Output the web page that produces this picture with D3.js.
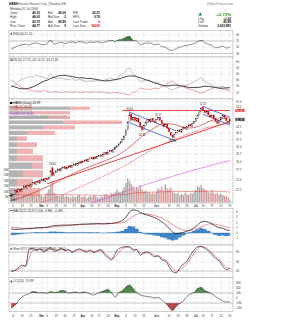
<!DOCTYPE html>
<html><head><meta charset="utf-8">
<script src="https://cdn.jsdelivr.net/npm/d3@7/dist/d3.min.js"></script>
<style>body{margin:0;background:#fff}svg{display:block}text{font-family:"Liberation Sans",Arial,sans-serif}</style>
</head><body><svg id="c" width="282" height="320"></svg>
<script>
// ---------- DATA ----------
const tickIdx = [1,6,11,17,20,25,30,35,40,45,49,54,59,64,69,74,81,88,93,98,103,107,112,117,122];
const tickLab = ["6","13","21","Mar","6","13","20","27","Apr","10","17","24","May","8","15","22","Jun","12","19","26","Jul","10","17","24","31"];
const openP = [21.4,21.1,21.6,22.5,22.1,22.7,22.2,22.9,23.5,23.0,23.7,23.2,24.0,24.4,23.9,24.7,24.2,
 24.9,25.2,24.6,25.4,25.1,25.8,28.2,26.1,26.9,27.2,27.9,27.4,28.2,28.5,27.9,28.4,28.8,28.3,29.0,29.4,28.9,29.6,30.0,
 29.7,30.2,30.6,30.1,30.9,31.3,30.8,31.5,30.9,31.7,32.1,31.6,32.4,32.9,32.3,33.2,33.7,33.1,34.1,
 34.7,35.3,36.0,36.7,37.6,39.0,41.5,45.0,48.5,45.8,47.0,45.3,46.6,44.6,42.8,41.6,43.3,44.5,46.0,44.8,46.4,45.2,
 44.5,46.1,47.0,45.4,44.0,42.7,43.9,41.9,40.4,39.0,38.4,39.8,40.3,41.4,40.5,41.8,42.5,41.7,42.9,43.6,42.9,44.3,
 45.2,46.6,48.3,49.9,51.8,50.2,49.0,50.0,48.1,47.0,48.1,46.3,45.0,44.1,45.8,46.9,48.0,46.7,45.2,45.32];
const highP = [21.8,21.7,22.6,22.7,22.8,22.9,23.0,23.6,23.6,23.8,23.8,24.1,24.5,24.5,24.8,24.9,25.0,
 25.3,25.4,25.5,25.6,25.8,27.6,28.6,27.0,27.5,28.0,28.1,28.3,28.6,28.6,28.5,28.9,29.0,29.1,29.5,29.6,29.7,30.1,30.2,
 30.3,30.7,30.8,31.0,31.4,31.4,31.6,31.6,31.8,32.2,32.3,32.5,33.0,33.1,33.3,33.8,33.9,34.2,34.9,
 35.5,36.2,36.9,37.9,39.3,41.8,45.2,50.03,48.8,47.4,47.2,46.9,46.8,44.9,43.1,43.6,44.9,46.2,46.3,46.6,46.7,45.6,
 46.2,47.27,47.1,45.6,44.3,44.1,44.0,42.2,40.6,39.3,39.9,40.6,41.5,41.5,41.8,42.6,42.7,42.9,43.8,43.8,44.4,45.3,
 46.6,48.4,49.9,52.0,52.72,50.6,50.2,50.2,48.4,48.2,48.3,46.5,45.4,45.8,47.1,48.0,48.3,46.9,45.6,46.00];
const lowP = [20.9,20.9,21.4,21.8,21.9,22.1,22.0,22.7,22.9,22.9,23.1,23.1,23.8,23.8,23.8,24.1,24.0,
 24.7,24.5,24.5,24.8,24.9,25.6,25.9,25.9,26.7,27.0,27.3,27.2,28.0,27.8,27.7,28.2,28.2,28.1,28.8,28.8,28.7,29.4,29.4,
 29.5,30.0,30.0,30.0,30.7,30.7,30.7,30.8,30.8,31.5,31.5,31.4,32.2,32.2,32.1,33.0,33.0,32.9,33.9,
 34.5,35.0,35.8,36.5,37.4,38.8,41.2,44.6,45.2,45.3,45.0,45.0,44.5,42.7,40.33,41.3,43.0,44.2,44.7,44.6,45.1,44.4,
 44.2,45.9,45.4,44.0,42.6,42.5,41.9,40.4,39.0,37.80,38.2,39.5,40.1,40.5,40.3,41.6,41.6,41.5,42.7,42.9,42.7,44.0,
 45.0,46.4,48.0,49.7,50.1,49.0,48.8,48.0,46.9,46.8,46.3,44.9,43.9,43.9,45.5,46.7,46.6,45.2,44.5,43.75];
const closeP = [21.2,21.5,22.4,22.0,22.6,22.3,22.8,23.4,23.1,23.6,23.3,23.9,24.3,24.0,24.6,24.3,24.8,
 25.1,24.7,25.3,25.0,25.6,27.3,26.2,26.8,27.3,27.8,27.5,28.1,28.4,28.0,28.3,28.7,28.4,28.9,29.3,29.0,29.5,29.9,29.6,
 30.1,30.5,30.2,30.8,31.2,30.9,31.4,31.0,31.6,32.0,31.7,32.3,32.8,32.4,33.1,33.6,33.2,34.0,34.6,
 35.2,35.9,36.6,37.5,38.8,41.0,44.5,48.2,46.0,46.8,45.5,46.5,44.8,43.0,41.5,43.2,44.6,45.8,45.0,46.2,45.4,44.7,
 45.9,46.8,45.6,44.2,42.9,43.8,42.1,40.6,39.2,38.5,39.6,40.4,41.2,40.7,41.6,42.3,41.9,42.7,43.5,43.1,44.2,45.0,
 46.4,48.1,49.6,51.5,50.4,49.2,49.8,48.3,47.2,47.9,46.5,45.1,44.3,45.6,46.8,47.8,46.9,45.4,44.77,45.99];
const volumeM = [11,7,6,8,7,5,6,7,6,5,6,8,7,6,5,6,7,
 6,5,7,9,12,16,20,9,7,6,5,6,7,5,6,5,4,6,5,5,6,7,5,
 5,6,4,5,6,5,7,6,5,4,6,5,7,8,6,7,9,8,10,
 12,10,9,11,14,18,22,20,17,15,12,14,13,16,12,10,11,9,10,8,9,8,
 10,13,12,15,11,17,13,12,14,10,9,8,9,7,8,7,9,8,7,9,8,10,
 12,15,14,16,13,12,11,10,9,11,9,8,9,7,8,7,6,6,5,2.6];
const maIdx = [0,5,10,15,20,25,30,35,40,45,50,55,60,65,70,75,80,85,90,95,100,105,110,115,120,122];
const ma20 = [20.3,20.8,21.5,22.3,23.3,24.3,25.5,26.7,27.8,28.8,29.8,30.9,32.2,34.3,37.0,39.9,42.3,44.1,43.9,42.8,42.2,43.1,45.0,46.2,46.6,46.6];
const ma50 = [18.0,18.5,19.0,19.6,20.2,20.9,21.7,22.6,23.5,24.5,25.6,26.7,27.9,29.3,31.0,32.7,34.4,36.0,37.4,38.7,40.0,41.3,42.5,43.3,44.0,44.3];
const ma200 = [15.0,15.5,16.0,16.5,17.0,17.5,18.1,18.6,19.2,19.8,20.4,21.0,21.7,22.4,23.1,23.8,24.5,25.2,25.9,26.6,27.3,28.0,28.7,29.4,30.1,30.4];
const volEma = [7.4,7.2,7.0,6.9,7.3,7.4,7.2,7.0,6.9,6.8,6.7,6.8,7.0,7.8,8.9,9.4,9.6,9.9,10.2,10.2,10.1,10.2,10.5,10.3,9.9,9.6];
const vbpEdges = [20.9,23.17,25.44,27.71,29.98,32.25,34.52,36.79,39.06,41.33,43.6,45.87,48.14,50.41,52.72];
const vbpUp   = [4,8,14,23,8,8,8,8,18,34,54,38,24,61];
const vbpDown = [27,16,20,11,26,16,20,10,28,32,59,23,37,20];
const indStep = 2;
const rsi = [44,50,55,58,60,57,62,64,60,58,62,72,60,63,66,62,65,67,64,68,66,63,67,65,68,64,66,70,72,68,74,76,82,85,72,70,58,62,64,63,58,60,52,50,42,40,46,50,54,56,58,62,68,72,64,60,56,48,50,54,47,51.1];
const adx = [21,19,17,16,16,17,19,22,25,28,30,33,35,37,38,38,37,36,35,34,34,33,33,32,31,30,29,29,30,31,32,34,36,37,37,36,34,32,30,28,26,24,22,21,21,22,22,21,20,19,18,18,18,19,20,20,19,18,17,17,17.5,17.75];
const pdi = [18,22,28,32,34,36,35,38,36,35,33,40,34,33,34,32,31,33,30,31,30,28,29,28,30,29,30,32,33,31,36,40,46,50,40,36,28,29,30,28,25,26,22,20,16,14,17,19,21,22,24,27,31,34,28,25,22,18,19,20,16,14.57];
const mdi = [30,26,22,18,16,14,13,12,12,13,12,10,12,11,10,11,11,10,11,10,10,11,10,11,10,11,10,9,9,10,9,8,7,6,10,12,17,16,15,15,17,16,20,22,26,28,24,21,19,17,15,13,11,9,12,14,16,19,17,15,14,11.95];
const macd = [0.8,0.7,0.7,0.75,0.8,0.85,0.9,1.0,1.0,1.05,1.1,1.3,1.4,1.45,1.5,1.5,1.5,1.55,1.6,1.65,1.7,1.7,1.75,1.75,1.8,1.75,1.75,1.8,1.85,1.95,2.1,2.4,3.0,4.0,4.4,4.3,3.9,3.6,3.4,3.2,2.9,2.6,2.1,1.6,0.9,0.2,-0.1,0.0,0.1,0.35,0.6,1.0,1.5,2.1,2.2,2.1,1.7,1.3,1.0,0.9,0.6,0.5];
const signal = [1.2,1.05,0.95,0.88,0.84,0.83,0.85,0.88,0.92,0.96,1.0,1.08,1.17,1.26,1.33,1.39,1.43,1.47,1.51,1.55,1.59,1.62,1.66,1.69,1.72,1.73,1.74,1.76,1.78,1.82,1.88,2.0,2.25,2.7,3.2,3.55,3.7,3.7,3.62,3.5,3.32,3.12,2.85,2.5,2.1,1.6,1.15,0.8,0.55,0.45,0.48,0.62,0.85,1.2,1.5,1.7,1.75,1.65,1.5,1.35,1.15,0.98];
const stoK = [18,22,30,38,35,88,92,85,90,80,88,94,82,86,92,84,88,78,86,90,84,80,86,78,84,88,72,62,55,75,90,95,97,96,85,88,70,78,80,72,65,68,55,52,35,18,14,28,42,50,70,86,96,98,92,84,72,60,52,36,24,30];
const stoD = [24,21,25,32,36,60,85,88,88,85,84,90,88,85,88,87,86,82,83,86,86,83,83,82,82,84,78,68,60,64,78,90,95,96,90,87,78,76,78,76,70,67,62,55,44,28,20,22,32,42,58,76,90,96,95,88,78,66,56,45,32,28];
const cci = [-200,-150,-60,20,60,80,130,120,100,110,90,130,110,120,150,140,100,110,120,100,120,110,80,60,90,120,150,170,110,20,110,150,220,260,190,110,60,40,30,20,0,10,-40,-100,-180,-250,-170,-110,-60,30,80,110,190,210,150,120,80,30,-20,-60,-80,-71];
// trendlines [i1,p1,i2,p2]
const redLines = [[62,50.4,122,50.4],[20,24.0,122,45.0]];
const blueLines = [[66,49.5,92,41.0],[66,44.5,92,37.0],[107,52.5,122,47.0],[107,48.5,122,43.5]];
const notes = [[66,50.03,"50.03",-1],[73,40.33,"40.33",1],[82,47.27,"47.27",-1],[90,37.80,"37.80",1],[107,52.72,"52.72",-1],[1,20.9,"20.90",1],[23,28.6,"28.60",-1]];
const priceTicks = [22.5,25,27.5,30,32.5,35,37.5,40,42.5,45,47.5,50,52.5,55];
const markers = [50.4,45.99];
const volTicks = [5,10,15,20,25,30];

// ---------- LAYOUT ----------
const svg = d3.select("#c");
const X0 = 9, X1 = 233, LX = 236;
const x = d3.scaleLinear().domain([0,122]).range([11.2,229.9]);
const FS = 3.1;
const gridC = "#e2e2e2", frameC = "#9a9a9a", labC = "#333";
const indX = d3.range(rsi.length).map(k => k*indStep);

function txt(s, px, py, o={}) {
  const t = svg.append("text").attr("x",px).attr("y",py).attr("font-size",o.fs||FS)
    .attr("fill",o.fill||labC).attr("text-anchor",o.anchor||"start").text(s);
  if (o.bold) t.attr("font-weight","bold");
  return t;
}
function panel(top, bottom, ys, ticks, fmt, avoid) {
  svg.append("rect").attr("x",X0).attr("y",top).attr("width",X1-X0).attr("height",bottom-top)
    .attr("fill","#fff").attr("stroke",frameC).attr("stroke-width",0.5);
  tickIdx.forEach(i => svg.append("line").attr("x1",x(i)).attr("x2",x(i)).attr("y1",top).attr("y2",bottom)
    .attr("stroke",gridC).attr("stroke-width",0.5));
  ticks.forEach(v => {
    const yy = ys(v);
    if (yy < top+1 || yy > bottom-1) return;
    svg.append("line").attr("x1",X0).attr("x2",X1).attr("y1",yy).attr("y2",yy).attr("stroke",gridC).attr("stroke-width",0.5);
    if (avoid && avoid.some(a => Math.abs(ys(a)-yy) < 3.4)) return;
    txt(fmt ? fmt(v) : v, LX, yy+1.1, {fs:2.8});
  });
}
function clip(id, top, bottom) {
  svg.append("clipPath").attr("id",id).append("rect").attr("x",X0).attr("y",top).attr("width",X1-X0).attr("height",bottom-top);
}
function line(g, xs, vals, ys, color, w) {
  g.append("path").attr("d", d3.line().x((d,k)=>x(xs[k])).y(d=>ys(d)).curve(d3.curveMonotoneX)(vals))
    .attr("fill","none").attr("stroke",color).attr("stroke-width",w);
}

// ---------- HEADER ----------
txt("HANS", 9, 4.5, {bold:true, fill:"#000"});
txt("Hansen Natural Corp  |  Nasdaq GM", 18, 4.5, {fill:"#555"});
txt("@StockCharts.com", 233, 4.5, {anchor:"end", fill:"#777"});
txt("Monday  31 Jul 2006", 10, 9.5);
const rowsY = [14,18.3,22.6,26.9];
[["Open","45.32","Bid","45.00","P/E","60.51"],["High","46.00","Bid Size","2","EPS","0.76"],
 ["Low","43.75","Ask","45.95","Last Trade","6"],["Prev Close","44.77","Ask Size","5","Last Size","54300"]]
 .forEach((r,k) => {
  txt(r[0],10,rowsY[k]); txt(r[1],40,rowsY[k],{anchor:"end",bold:true,fill:"#000"});
  txt(r[2],48,rowsY[k]); txt(r[3],66,rowsY[k],{anchor:"end",bold:true,fill:"#000"});
  txt(r[4],73,rowsY[k]); txt(r[5],100,rowsY[k],{anchor:"end",bold:true,fill: k>=2?"#c00":"#000"});
 });
svg.append("path").attr("d","M198.5,15.5 L200.3,12.3 L202.1,15.5 Z").attr("fill","#2a7a2a");
txt("+2.73%", 231, 15.5, {anchor:"end", fs:4.3, fill:"#2a8a2a", bold:true});
txt("Chg",198,19.6); txt("+1.22",231,19.6,{anchor:"end",bold:true,fill:"#000"});
txt("Last",198,23.3); txt("45.99",231,23.3,{anchor:"end",bold:true,fill:"#000"});
txt("Volume",198,27.2); txt("2,603,991",231,27.2,{anchor:"end",bold:true,fill:"#000"});

// ---------- RSI ----------
const yR = d3.scaleLinear().domain([30,70]).range([53.5,41]);
panel(30.5, 57, yR, [30,50,70,90]);
clip("cR",30.5,57);
const gR = svg.append("g").attr("clip-path","url(#cR)");
gR.append("path").attr("d", d3.area().x((d,k)=>x(indX[k])).y0(yR(70)).y1(d=>yR(Math.max(d,70))).curve(d3.curveMonotoneX)(rsi)).attr("fill","#3d7a3d");
gR.append("path").attr("d", d3.area().x((d,k)=>x(indX[k])).y0(yR(30)).y1(d=>yR(Math.min(d,30))).curve(d3.curveMonotoneX)(rsi)).attr("fill","#b33");
[70,30].forEach(v=>gR.append("line").attr("x1",X0).attr("x2",X1).attr("y1",yR(v)).attr("y2",yR(v)).attr("stroke","#999").attr("stroke-width",0.5));
line(gR, indX, rsi, yR, "#444", 0.6);
svg.append("path").attr("d","M10,34.6 L11.2,32.4 L12.4,34.6 Z").attr("fill","#444");
txt("RSI(14) 51.10", 13, 34.6);

// ---------- ADX ----------
const yA = d3.scaleLinear().domain([0,60]).range([98.5,62]);
panel(57, 99, yA, [10,20,30,40,50,60]);
clip("cA",57,99);
const gA = svg.append("g").attr("clip-path","url(#cA)");
line(gA, indX, pdi, yA, "#999", 0.6);
line(gA, indX, mdi, yA, "#d46a6a", 0.6);
line(gA, indX, adx, yA, "#333", 0.9);
txt("ADX(14) 17.75  +DI 14.57  -DI 11.95", 10, 61);

// ---------- PRICE ----------
const PT = 99, PB = 203;
const yP = d3.scaleLog().domain([21,52.72]).range([197,106]);
panel(PT, PB, yP, priceTicks, v=>v.toFixed(1), markers);
clip("cP",PT,PB);
const gP = svg.append("g").attr("clip-path","url(#cP)");
// volume by price
const vbpW = d3.scaleLinear().domain([0,113]).range([0,113]);
vbpUp.forEach((u,k) => {
  const yTop = yP(vbpEdges[k+1]) + 0.7, yBot = yP(vbpEdges[k]) - 0.7;
  gP.append("rect").attr("x",X0).attr("y",yTop).attr("width",vbpW(u)).attr("height",yBot-yTop).attr("fill","#b4b4b4");
  gP.append("rect").attr("x",X0+vbpW(u)).attr("y",yTop).attr("width",vbpW(vbpDown[k])).attr("height",yBot-yTop).attr("fill","#efb2b2");
});
// volume
const yV = d3.scaleLinear().domain([0,30]).range([202.5,170]);
volumeM.forEach((v,i) => {
  const up = i===0 || closeP[i] >= closeP[i-1];
  gP.append("rect").attr("x",x(i)-0.7).attr("y",yV(v)).attr("width",1.4).attr("height",yV(0)-yV(v))
    .attr("fill", up ? "#a9a9a9" : "#e89a9a");
});
line(gP, maIdx, volEma, yV, "#d04040", 0.5);
volTicks.forEach(v => txt(v+"M", 8.5, yV(v)+1, {anchor:"end", fs:2.6}));
// moving averages
line(gP, maIdx, ma200, yP, "#d64fd6", 0.6);
line(gP, maIdx, ma50, yP, "#e07070", 0.6);
line(gP, maIdx, ma20, yP, "#c01818", 0.6);
// trendlines
redLines.forEach(l => gP.append("line").attr("x1",x(l[0])).attr("y1",yP(l[1])).attr("x2",x(l[2])).attr("y2",yP(l[3])).attr("stroke","#e03030").attr("stroke-width",0.9));
blueLines.forEach(l => gP.append("line").attr("x1",x(l[0])).attr("y1",yP(l[1])).attr("x2",x(l[2])).attr("y2",yP(l[3])).attr("stroke","#3a55d0").attr("stroke-width",0.8));
// candles
closeP.forEach((c,i) => {
  const o = openP[i], up = i===0 || c >= closeP[i-1];
  const col = up ? "#000" : "#d00";
  gP.append("line").attr("x1",x(i)).attr("x2",x(i)).attr("y1",yP(highP[i])).attr("y2",yP(lowP[i])).attr("stroke",col).attr("stroke-width",0.45);
  const yt = yP(Math.max(o,c)), yb = yP(Math.min(o,c));
  gP.append("rect").attr("x",x(i)-0.6).attr("y",yt).attr("width",1.2).attr("height",Math.max(0.4,yb-yt))
    .attr("fill", c > o ? "#fff" : col).attr("stroke",col).attr("stroke-width",0.3);
});
notes.forEach(n => txt(n[2], x(n[0]), yP(n[1]) + (n[3]<0 ? -1.2 : 3.4), {anchor:"middle", fs:2.6, fill:"#222"}));
// legend
const legY = [104,107.6,111.2,114.8,118.4];
const legC = ["#000","#c01818","#e07070","#d64fd6","#999"];
const legT = ["HANS (Daily) 45.99","MA(20) 46.62","MA(50) 44.31","MA(200) 30.44","Volume 2,603,991, EMA(60) 9,612,370"];
legT.forEach((t,k) => {
  const box = k===0||k===4;
  svg.append("rect").attr("x",10).attr("y", box?legY[k]-2:legY[k]-1.2).attr("width",2.4).attr("height",box?2:0.7).attr("fill",legC[k]);
  txt(t, 13.2, legY[k], {fill: k===0?"#000":legC[k]});
});
// price marker boxes
[[markers[0],"#e03030"],[markers[1],"#222"]].forEach(m => {
  const yy = yP(m[0]);
  svg.append("rect").attr("x",LX-0.6).attr("y",yy-1.6).attr("width",9).attr("height",3.2).attr("fill",m[1]);
  txt(m[0].toFixed(2), LX, yy+1.1, {fs:2.8, fill:"#fff"});
});
tickIdx.forEach((i,k) => txt(tickLab[k], x(i), 206.6, {anchor:"middle", fs:2.8, bold: isNaN(+tickLab[k])}));

// ---------- MACD ----------
const yM = d3.scaleLinear().domain([0,4]).range([233,212]);
panel(208.5, 245, yM, [-1,0,1,2,3,4]);
clip("cM",208.5,245);
const gM = svg.append("g").attr("clip-path","url(#cM)");
gM.append("path").attr("d", d3.area().x((d,k)=>x(indX[k])).y0(yM(0)).y1((d,k)=>yM(macd[k]-signal[k])).curve(d3.curveStep)(macd))
  .attr("fill","#3d86c6").attr("stroke","#2a6aa8").attr("stroke-width",0.3);
line(gM, indX, signal, yM, "#e05050", 0.6);
line(gM, indX, macd, yM, "#111", 0.7);
txt("MACD(12,26,9) 0.500, 0.980, -0.480", 13, 212);
svg.append("rect").attr("x",10).attr("y",210.3).attr("width",2.4).attr("height",0.7).attr("fill","#111");

// ---------- STO ----------
const yS = d3.scaleLinear().domain([20,80]).range([271,252]);
panel(245, 277.5, yS, [20,50,80]);
clip("cS",245,277.5);
const gS = svg.append("g").attr("clip-path","url(#cS)");
[80,20].forEach(v=>gS.append("line").attr("x1",X0).attr("x2",X1).attr("y1",yS(v)).attr("y2",yS(v)).attr("stroke","#999").attr("stroke-width",0.5));
line(gS, indX, stoD, yS, "#e05050", 0.6);
line(gS, indX, stoK, yS, "#222", 0.7);
svg.append("path").attr("d","M10,249.6 L11.2,247.4 L12.4,249.6 Z").attr("fill","#444");
txt("Slow STO %K(14) %D(3) 30.00, 28.00", 13, 249.6);

// ---------- CCI ----------
const yC = d3.scaleLinear().domain([-200,300]).range([308,283]);
panel(277.5, 311.5, yC, [-200,-100,0,100,200,300]);
clip("cC",277.5,311.5);
const gC = svg.append("g").attr("clip-path","url(#cC)");
gC.append("path").attr("d", d3.area().x((d,k)=>x(indX[k])).y0(yC(100)).y1(d=>yC(Math.max(d,100))).curve(d3.curveMonotoneX)(cci)).attr("fill","#4f8a4f");
gC.append("path").attr("d", d3.area().x((d,k)=>x(indX[k])).y0(yC(-100)).y1(d=>yC(Math.min(d,-100))).curve(d3.curveMonotoneX)(cci)).attr("fill","#b54a4a");
[100,-100].forEach(v=>gC.append("line").attr("x1",X0).attr("x2",X1).attr("y1",yC(v)).attr("y2",yC(v)).attr("stroke","#999").attr("stroke-width",0.5));
line(gC, indX, cci, yC, "#333", 0.6);
svg.append("path").attr("d","M10,282.2 L11.2,280 L12.4,282.2 Z").attr("fill","#444");
txt("CCI(20) -70.99", 13, 282.2);
tickIdx.forEach((i,k) => txt(tickLab[k], x(i), 316.5, {anchor:"middle", fs:2.8, bold: isNaN(+tickLab[k])}));
</script></body></html>
